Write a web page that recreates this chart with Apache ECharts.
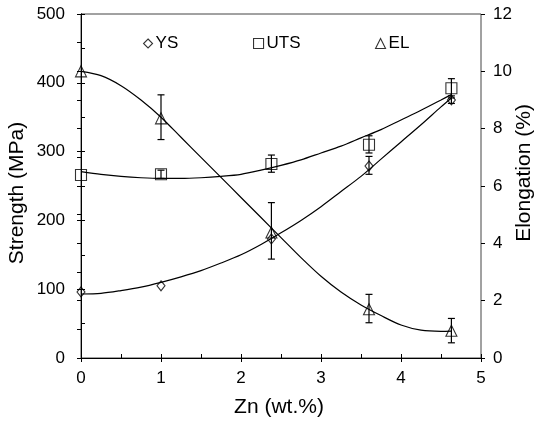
<!DOCTYPE html>
<html><head><meta charset="utf-8">
<script src="https://cdn.jsdelivr.net/npm/echarts@6/dist/echarts.min.js"></script>
<style>html,body{margin:0;padding:0;background:#fff}#c{width:538px;height:421px}</style>
</head><body><div id="c"></div>
<script>
// Measured points: [Zn wt.%, value]
const ysPoints  = [[0, 96], [1, 105], [2.38, 173], [3.6, 279], [4.63, 375]];
const ysErr     = [[3.6, 267, 293], [4.63, 370, 381]];
const utsPoints = [[0, 266], [1, 267], [2.38, 282], [3.6, 310], [4.63, 392]];
const utsErr    = [[1, 261, 273], [2.38, 270, 295], [3.6, 298, 323], [4.63, 378, 406]];
const elPoints  = [[0, 10.0], [1, 8.36], [2.38, 4.38], [3.6, 1.70], [4.63, 0.95]];
const elErr     = [[1, 7.62, 9.18], [2.38, 3.45, 5.42], [3.6, 1.23, 2.22], [4.63, 0.53, 1.38]];
// Fitted trend curves
const ysCurve  = [[0, 93], [0.25, 94], [0.5, 98], [0.75, 103], [1, 110], [1.25, 118], [1.5, 127], [1.75, 138],
  [2, 150], [2.25, 165], [2.5, 182], [2.75, 200], [3, 220], [3.25, 242], [3.5, 264], [3.75, 289], [4, 314],
  [4.25, 339], [4.5, 365], [4.63, 378]];
const utsCurve = [[0, 271], [0.25, 267], [0.5, 264], [0.75, 262], [1, 261], [1.25, 261], [1.5, 262], [1.75, 264],
  [2, 267], [2.25, 273], [2.5, 280], [2.75, 288], [3, 298], [3.25, 308], [3.5, 320], [3.75, 332], [4, 346],
  [4.25, 360], [4.5, 375], [4.63, 383]];
const elCurve  = [[0, 10.0], [0.25, 9.85], [0.5, 9.5], [0.75, 9.0], [1, 8.4], [1.25, 7.7], [1.5, 7.0], [1.75, 6.3],
  [2, 5.6], [2.25, 4.9], [2.5, 4.2], [2.75, 3.5], [3, 2.85], [3.25, 2.3], [3.5, 1.85], [3.75, 1.48], [4, 1.15],
  [4.25, 0.97], [4.5, 0.93], [4.63, 0.94]];
const xTicks = [0, 1, 2, 3, 4, 5];
const leftTicks = [0, 100, 200, 300, 400, 500];
const rightTicks = [0, 2, 4, 6, 8, 10, 12];

const FONT = 'Liberation Sans, Arial, sans-serif';
const chart = echarts.init(document.getElementById('c'), null, {renderer: 'canvas'});

function errSeries(data, yIdx) {
  return {
    type: 'custom', xAxisIndex: 0, yAxisIndex: yIdx, silent: true, z: 3,
    data: data,
    renderItem: function (params, api) {
      const p1 = api.coord([api.value(0), api.value(1)]);
      const p2 = api.coord([api.value(0), api.value(2)]);
      const w = 3.5;
      const st = {stroke: '#000', lineWidth: 1.2, fill: null};
      return {type: 'group', children: [
        {type: 'line', shape: {x1: p1[0], y1: p1[1], x2: p2[0], y2: p2[1]}, style: st},
        {type: 'line', shape: {x1: p1[0]-w, y1: p1[1], x2: p1[0]+w, y2: p1[1]}, style: st},
        {type: 'line', shape: {x1: p2[0]-w, y1: p2[1], x2: p2[0]+w, y2: p2[1]}, style: st}
      ]};
    }
  };
}
function curve(data, yIdx) {
  return {type: 'line', xAxisIndex: 0, yAxisIndex: yIdx, data: data, smooth: 0.3, showSymbol: false,
    silent: true, lineStyle: {color: '#000', width: 1.2}, z: 2};
}
const hollow = {color: 'rgba(0,0,0,0)', borderColor: '#000', borderWidth: 1.1};
function pts(name, data, yIdx, sym, size) {
  return {name: name, type: 'scatter', xAxisIndex: 0, yAxisIndex: yIdx, data: data, symbol: sym,
    symbolSize: size, itemStyle: hollow, z: 4};
}
function legendAt(name, left, icon, size) {
  return {data: [{name: name, icon: icon}], left: left, top: 35, padding: 0, itemWidth: size, itemHeight: size,
    itemGap: 0, selectedMode: false, itemStyle: hollow,
    textStyle: {fontFamily: FONT, fontSize: 17, color: '#000', padding: [0, 0, 0, -2]}};
}
const xBase = {type: 'value', min: 0, max: 5, interval: 1, gridIndex: 0, splitLine: {show: false}};
const axLine = {show: true, lineStyle: {color: '#000', width: 1}};

chart.setOption({
  animation: false,
  backgroundColor: '#fff',
  grid: {left: 81, right: 57, top: 14, bottom: 63, show: true, borderColor: '#444', borderWidth: 1, containLabel: false},
  legend: [
    legendAt('YS', 143, 'diamond', 9),
    legendAt('UTS', 253, 'rect', 10),
    legendAt('EL', 375, 'triangle', 10)
  ],
  xAxis: [
    Object.assign({}, xBase, {position: 'bottom', axisLine: axLine,
      axisTick: {inside: true, length: 4, lineStyle: {color: '#000'}},
      minorTick: {show: true, splitNumber: 2, length: 4, lineStyle: {color: '#000'}},
      axisLabel: {fontFamily: FONT, fontSize: 17, color: '#000', margin: 12,
        formatter: function (v) { return xTicks.indexOf(v) >= 0 ? String(v) : ''; }}}),
    Object.assign({}, xBase, {position: 'bottom', axisLine: {show: false},
      axisTick: {inside: false, length: 4, lineStyle: {color: '#000'}}, axisLabel: {show: false}})
  ],
  yAxis: [
    {type: 'value', min: 0, max: 500, interval: 100, position: 'left', splitLine: {show: false}, axisLine: axLine,
      axisTick: {inside: true, length: 4, lineStyle: {color: '#000'}},
      minorTick: {show: true, splitNumber: 2, length: 4, lineStyle: {color: '#000'}},
      axisLabel: {fontFamily: FONT, fontSize: 17, color: '#000', margin: 16,
        formatter: function (v) { return leftTicks.indexOf(v) >= 0 ? String(v) : ''; }}},
    {type: 'value', min: 0, max: 12, interval: 2, position: 'right', splitLine: {show: false}, axisLine: axLine,
      axisTick: {inside: true, length: 4, lineStyle: {color: '#000'}},
      minorTick: {show: true, splitNumber: 2, length: 4, lineStyle: {color: '#000'}},
      axisLabel: {fontFamily: FONT, fontSize: 17, color: '#000', margin: 12,
        formatter: function (v) { return rightTicks.indexOf(v) >= 0 ? String(v) : ''; }}},
    {type: 'value', min: 0, max: 500, interval: 100, position: 'left', splitLine: {show: false}, axisLine: {show: false},
      axisTick: {inside: false, length: 4, lineStyle: {color: '#000'}}, axisLabel: {show: false}},
    {type: 'value', min: 0, max: 12, interval: 2, position: 'right', splitLine: {show: false}, axisLine: {show: false},
      axisTick: {inside: false, length: 4, lineStyle: {color: '#000'}}, axisLabel: {show: false}}
  ],
  graphic: [
    {type: 'text', x: 17, y: 193, rotation: Math.PI / 2,
      style: {text: 'Strength (MPa)', fontFamily: FONT, fontSize: 21, fill: '#000', align: 'center', verticalAlign: 'middle'}},
    {type: 'text', x: 524, y: 173, rotation: Math.PI / 2,
      style: {text: 'Elongation (%)', fontFamily: FONT, fontSize: 21, fill: '#000', align: 'center', verticalAlign: 'middle'}},
    {type: 'text', x: 279, y: 407,
      style: {text: 'Zn (wt.%)', fontFamily: FONT, fontSize: 21, fill: '#000', align: 'center', verticalAlign: 'middle'}}
  ],
  series: [
    curve(ysCurve, 0), curve(utsCurve, 0), curve(elCurve, 1),
    errSeries(ysErr, 0), errSeries(utsErr, 0), errSeries(elErr, 1),
    pts('YS', ysPoints, 0, 'diamond', [8, 10]),
    pts('UTS', utsPoints, 0, 'rect', 11),
    pts('EL', elPoints, 1, 'triangle', 11)
  ]
});
</script></body></html>
